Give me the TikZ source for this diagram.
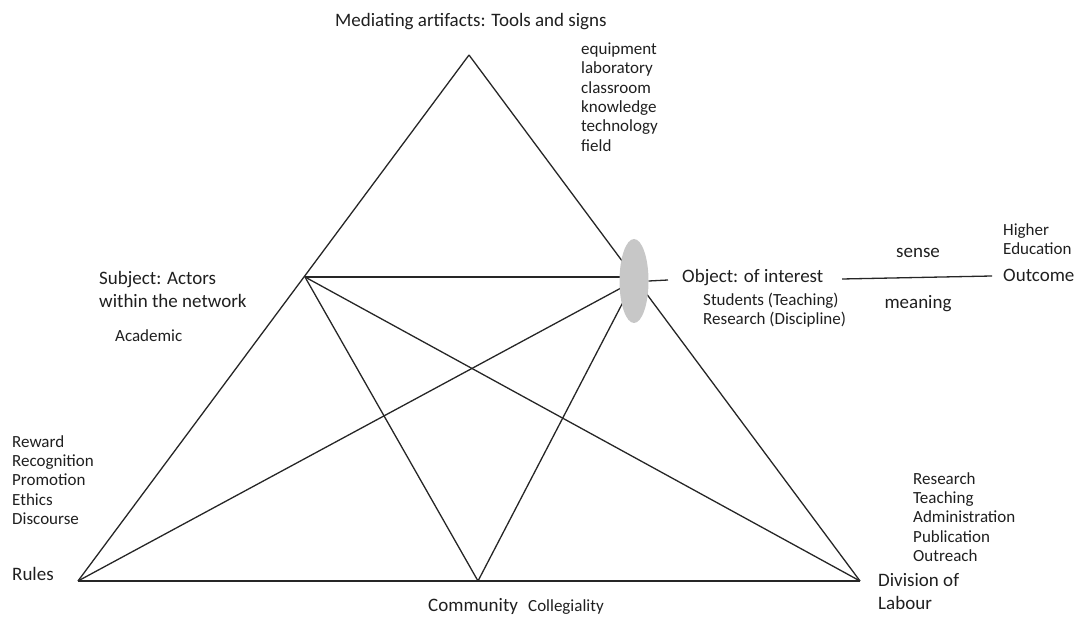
\documentclass[tikz,border=0pt]{standalone}
\usepackage{fontspec}
\setmainfont{Carlito}
\usetikzlibrary{shapes.geometric}
\begin{document}
\begin{tikzpicture}[x=1pt,y=-1pt,
  big/.style={font=\fontsize{19}{23}\selectfont, inner sep=0pt, anchor=west, align=left, text=black!88},
  small/.style={font=\fontsize{17}{19.3}\selectfont, inner sep=0pt, anchor=west, align=left, text=black!88},
  link/.style={draw=black!85, line width=1.3pt},
  blob/.style={ellipse, fill=black!22, draw=none, minimum width=29pt, minimum height=84pt, inner sep=0pt}]
\useasboundingbox (0,0) rectangle (1081,617);
% corner points
\coordinate (apex) at (469,55);
\coordinate (sub) at (305,277);
\coordinate (objc) at (634,281);
\coordinate (objw) at (628,277);
\coordinate (rules) at (78,581);
\coordinate (comm) at (478,581);
\coordinate (div) at (860,581);
\coordinate (tick) at (668,280);
\coordinate (oa) at (842,279);
\coordinate (ob) at (992,276);
% triangle and inner lines
\draw[link] (apex) -- (rules);
\draw[link] (apex) -- (div);
\draw[link] (rules) -- (div);
\draw[link] (sub) -- (objw);
\draw[link] (rules) -- (objc);
\draw[link] (comm) -- (objc);
\draw[link] (sub) -- (comm);
\draw[link] (sub) -- (div);
\node[blob] (obj) at (objc) {};
\draw[link] (obj.east) -- (tick);
\draw[link] (oa) -- (ob);
% labels
\node[big] (med) at (335,22) {Mediating artifacts: Tools and signs};
\node[small] (tools) at (581,97) {equipment\\laboratory\\classroom\\knowledge\\technology\\field};
\node[big] (subj) at (99,289) {Subject: Actors\\within the network};
\node[small] (acad) at (115,336) {Academic};
\node[big] (objt) at (682,278) {Object: of interest};
\node[small] (objl) at (703,310) {Students (Teaching)\\Research (Discipline)};
\node[big, anchor=center] (sense) at (918,253) {sense};
\node[big, anchor=center] (mean) at (918,304) {meaning};
\node[small] (he) at (1003,239) {Higher\\Education};
\node[big] (outc) at (1003,275) {Outcome};
\node[small] (rl) at (12,480) {Reward\\Recognition\\Promotion\\Ethics\\Discourse};
\node[big] (rulest) at (12,574) {Rules};
\node[big] (commt) at (428,606) {Community};
\node[small] (coll) at (528,607) {Collegiality};
\node[small] (dl) at (913,517) {Research\\Teaching\\Administration\\Publication\\Outreach};
\node[big] (divt) at (878,592) {Division of\\Labour};
\end{tikzpicture}
\end{document}
